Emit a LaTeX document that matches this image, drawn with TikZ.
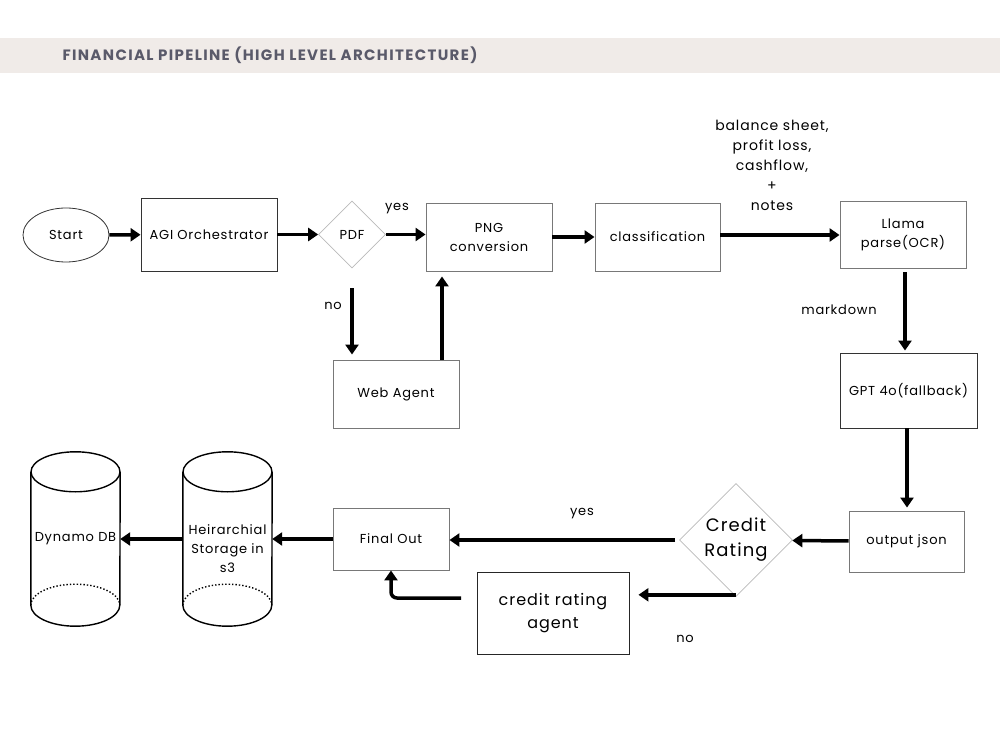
\documentclass[tikz,border=0pt]{standalone}
\usepackage{fontspec}
\setmainfont{Poppins}[LetterSpace=6]
\newfontfamily\titlefont{Poppins}[LetterSpace=9]
\usetikzlibrary{positioning,arrows.meta,shapes.geometric}
\definecolor{bandgrey}{RGB}{240,235,232}
\definecolor{titlegrey}{RGB}{90,90,106}
\definecolor{boxgrey}{RGB}{120,120,120}
\definecolor{diagrey}{RGB}{185,185,185}

\begin{document}
\begin{tikzpicture}[x=1pt,y=1pt,font=\fontsize{13}{19}\selectfont,
    flowbox/.style={draw=boxgrey,line width=0.9pt,rectangle,inner sep=2pt,align=center},
    decision/.style={draw=diagrey,line width=0.6pt,diamond,aspect=1,inner sep=0pt,align=center},
    cylbox/.style={rectangle,minimum width=89pt,minimum height=174pt,inner sep=0pt,align=center},
    cylline/.style={line width=1.4pt},
    flow/.style={line width=3.5pt,-{Triangle[length=10pt,width=13pt]}},
    lbl/.style={inner sep=0pt,align=center}]
    \useasboundingbox (0,0) rectangle (1000,750);
    % Header band
    \fill[bandgrey] (0,677) rectangle (1000,712);
    \node[anchor=west,text=titlegrey,font=\titlefont\fontsize{15}{17}\selectfont\bfseries] (title) at (59,695)
        {FINANCIAL PIPELINE (HIGH LEVEL ARCHITECTURE)};
    % Top row
    \node[draw=black!80,line width=0.8pt,ellipse,minimum width=86pt,minimum height=54pt] (start) at (66,515) {Start};
    \node[flowbox,draw=black!80,minimum width=136pt,minimum height=73pt] (agi) at (209,515.5) {AGI Orchestrator};
    \node[decision,minimum width=67pt,minimum height=67pt] (pdf) at (352,515.5) {PDF};
    \node[flowbox,minimum width=126pt,minimum height=68pt] (png) at (489,513) {PNG\\conversion};
    \node[flowbox,minimum width=125pt,minimum height=68pt] (class) at (657.5,513) {classification};
    \node[flowbox,minimum width=126pt,minimum height=67pt] (llama) at (903,515.5) {Llama\\parse(OCR)};
    \node[flowbox,minimum width=126pt,minimum height=68pt] (web) at (396,356) {Web Agent};
    % Right column
    \node[flowbox,draw=black!80,minimum width=137pt,minimum height=75pt] (gpt) at (908.5,359.5) {GPT 4o(fallback)};
    \node[flowbox,minimum width=115pt,minimum height=61pt] (json) at (906.5,208.5) {output json};
    % Bottom row
    \node[decision,minimum width=113pt,minimum height=113pt,font=\fontsize{18}{25}\selectfont] (credit) at (736,210) {Credit\\Rating};
    \node[flowbox,draw=black!85,minimum width=152pt,minimum height=82pt,font=\fontsize{16}{23}\selectfont] (agent) at (553,137) {credit rating\\agent};
    \node[flowbox,minimum width=116pt,minimum height=62pt] (final) at (391,211) {Final Out};
    \node[cylbox] (s3) at (227.5,211) {};
    \node[lbl] (s3txt) at ([yshift=-10pt]s3.center) {Heirarchial\\Storage in\\s3};
    \node[cylbox] (dynamo) at (75.5,211) {Dynamo DB};
    \foreach \c in {s3,dynamo}{
        \draw[cylline] ([yshift=-20pt]\c.north west) -- ([yshift=21pt]\c.south west)
            arc[start angle=180,end angle=360,x radius=44.5pt,y radius=21pt]
            -- ([yshift=-20pt]\c.north east);
        \draw[cylline] ([yshift=-20pt]\c.north) ellipse [x radius=44.5pt,y radius=20pt];
        \draw[cylline,dotted] ([yshift=21pt]\c.south west)
            arc[start angle=180,end angle=0,x radius=44.5pt,y radius=21pt];
    }
    % Connectors
    \draw[flow] (start) -- (agi);
    \draw[flow] (agi) -- (pdf);
    \draw[flow] (pdf.east) -- (pdf.east -| png.west);
    \draw[flow,shorten <=20pt,shorten >=5pt] (pdf.south) -- (pdf.south |- web.north);
    \draw[flow,shorten >=5pt] ([xshift=46pt]web.north) -- ([xshift=46pt]web.north |- png.south);
    \draw[flow] (png) -- (class);
    \draw[flow] ([yshift=2pt]class.east) -- ([yshift=2pt]class.east -| llama.west);
    \draw[flow,shorten <=4pt,shorten >=2pt] ([xshift=2pt]llama.south) -- ([xshift=2pt]llama.south |- gpt.north);
    \draw[flow,shorten >=3pt] ([xshift=-1.5pt]gpt.south) -- ([xshift=-1.5pt]gpt.south |- json.north);
    \draw[flow] (json) -- (credit);
    \draw[flow,shorten <=4pt] (credit.west) -- (credit.west -| final.east);
    \draw[flow,shorten >=9pt] ([yshift=2pt]credit.south) -- ([yshift=2pt]credit.south -| agent.east);
    \coordinate (back) at (461,152);
    \draw[flow,rounded corners=6pt] (back) -| (final.south);
    \draw[flow] (final) -- (s3);
    \draw[flow] (s3) -- (dynamo);
    % Labels
    \node[lbl] (yes1) at (397,541) {yes};
    \node[lbl] (no1) at (333,444) {no};
    \node[lbl,font=\fontsize{14}{20}\selectfont] (docs) at (772,585) {balance sheet,\\profit loss,\\cashflow,\\+\\notes};
    \node[lbl] (md) at (839,440) {markdown};
    \node[lbl] (yes2) at (582,236) {yes};
    \node[lbl] (no2) at (685,111) {no};
\end{tikzpicture}
\end{document}
